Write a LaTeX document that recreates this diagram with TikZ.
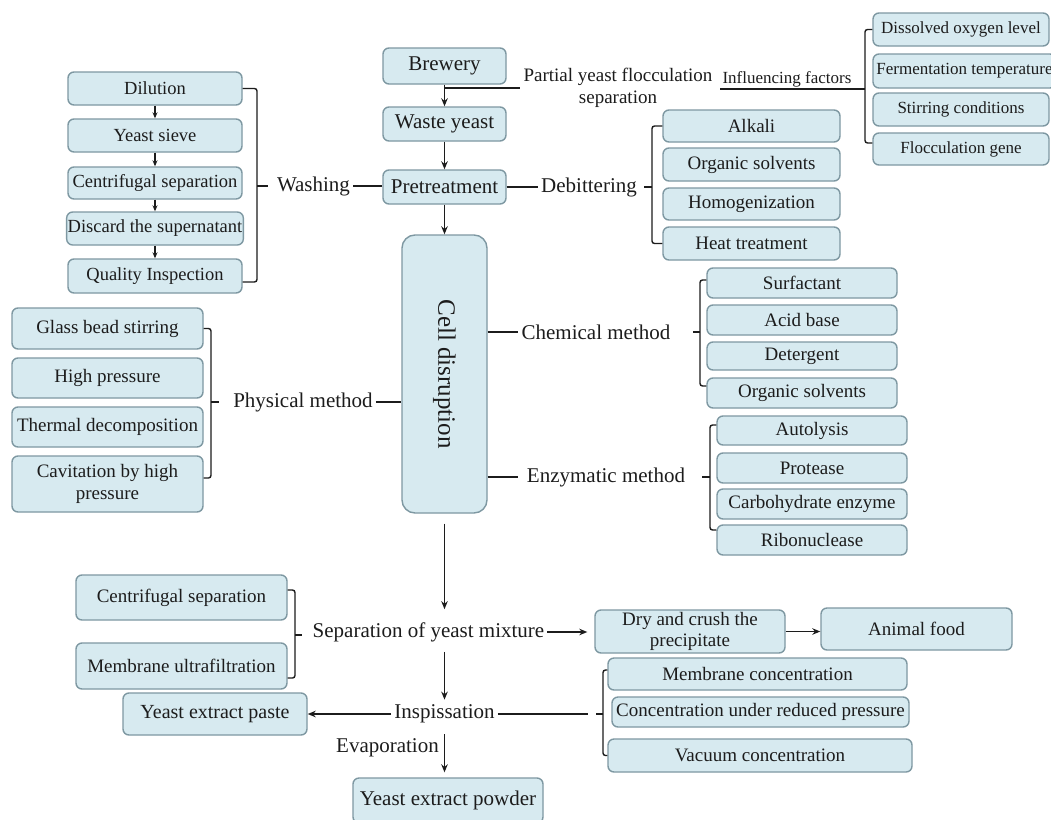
\documentclass[tikz,border=0pt]{standalone}
\usepackage{fontspec}
\setmainfont{Liberation Serif}
\usetikzlibrary{arrows.meta,calc}
\definecolor{boxfill}{HTML}{D7EAF0}
\definecolor{boxline}{HTML}{7E98A2}
\definecolor{ink}{HTML}{1C1C1C}
\newcommand{\fmain}{\fontsize{21}{24}\selectfont}
\newcommand{\fitem}{\fontsize{19}{21.5}\selectfont}
\newcommand{\fwash}{\fontsize{18.5}{21}\selectfont}
\newcommand{\finf}{\fontsize{17}{20}\selectfont}
\newcommand{\fcell}{\fontsize{25}{28}\selectfont}
% rounded box given by its corners: [options]{name}{x1}{y1}{x2}{y2}{text}
\newcommand{\bx}[7][]{\node[box,#1,minimum width={(#5-#3)*1pt},minimum height={(#6-#4)*1pt}] (#2) at ({(#3+#5)/2},{(#4+#6)/2}) {#7};}
\begin{document}
\begin{tikzpicture}[x=1pt,y=-1pt,
  box/.style={draw=boxline, fill=boxfill, line width=1.4pt, rounded corners=6pt,
              inner sep=1pt, align=center, text=ink, font=\fitem},
  lab/.style={inner sep=3pt, text=ink, font=\fmain},
  conn/.style={draw=ink, line width=1.5pt},
  arr/.style={conn, -{Stealth[length=8pt,width=6.5pt]}},
  sarr/.style={conn, line width=1.3pt, -{Stealth[length=6pt,width=5pt]}},
  brc/.style={draw=ink, line width=1.4pt, rounded corners=2.5pt}]
\fill[white] (0,0) rectangle (1051,819);
\clip (0,0) rectangle (1051,819);

% main chain
\bx[font=\fmain]{brew}{383}{48}{506}{84}{Brewery}
\bx[font=\fmain]{waste}{383}{107}{506}{141}{Waste yeast}
\bx[font=\fmain]{pre}{383}{170}{506}{204}{Pretreatment}
\node[box, font=\fcell, rotate=-90, minimum width=278pt, minimum height=85pt,
      rounded corners=13pt] (cell) at (444.5,374) {Cell disruption};

\draw[arr] (brew.south) -- (waste.north);
\draw[arr] (waste.south) -- (pre.north);
\draw[arr] (pre.south) -- (pre.south |- cell.west);

% partial flocculation and its influencing factors
\coordinate (j1) at (444.5,88);
\node[lab, font=\fitem, align=center] (pys) at (618,88) {Partial yeast flocculation\\separation};
\draw[conn] (j1) -- (pys.west);
\node[lab, font=\finf, anchor=south, inner sep=2pt] (infl) at (787,89) {Influencing factors};
\coordinate (ibr) at (865,89);
\draw[conn] (infl.south west) -- (ibr);

\bx[font=\finf]{diss}{873}{13}{1049}{46}{Dissolved oxygen level}
\bx[font=\finf]{ferm}{873}{54}{1056}{88}{Fermentation temperature}
\bx[font=\finf]{stir}{873}{93}{1049}{126}{Stirring conditions}
\bx[font=\finf]{floc}{873}{133}{1049}{165}{Flocculation gene}
\draw[brc] (diss.west) -- (865,29.5) -- (865,143) -- ($(floc.west)+(0,-6)$);

% washing
\bx[font=\fwash]{dil}{68}{72}{242}{105}{Dilution}
\bx[font=\fwash]{ysv}{68}{119}{242}{152}{Yeast sieve}
\bx[font=\fwash]{cen}{68}{167}{242}{199}{Centrifugal separation}
\bx[font=\fwash]{dis}{68}{212}{242}{245}{Discard the supernatant}
\bx[font=\fwash]{qi}{68}{259}{242}{293}{Quality Inspection}
\draw[sarr] (dil.south) -- (ysv.north);
\draw[sarr] (ysv.south) -- (cen.north);
\draw[sarr] (cen.south) -- (dis.north);
\draw[sarr] (dis.south) -- (qi.north);
\draw[brc] (dil.east) -- (257,88.5) -- (257,282) -- ($(qi.east)+(0,6)$);
\draw[brc] (257,186) -- (268,186);
\node[lab] (wash) at (313.5,186) {Washing};
\draw[conn] (wash.east) -- (wash.east -| pre.west);

% debittering
\node[lab] (deb) at (589,187) {Debittering};
\draw[conn] (pre.east) -- (deb.west);
\bx{alk}{663}{110}{840}{142}{Alkali}
\bx{orgA}{663}{148}{840}{181}{Organic solvents}
\bx{homo}{663}{188}{840}{220}{Homogenization}
\bx{heat}{663}{227}{840}{260}{Heat treatment}
\draw[brc] (alk.west) -- (652,126) -- (652,243.5) -- (heat.west);
\draw[brc] (652,187) -- (644,187);

% physical method
\bx{glass}{12}{308}{203}{349}{Glass bead stirring}
\bx{high}{12}{358}{203}{398}{High pressure}
\bx{therm}{12}{407}{203}{447}{Thermal decomposition}
\bx{cav}{12}{456}{203}{512}{Cavitation by high\\pressure}
\draw[brc] (glass.east) -- (211,328.5) -- (211,478) -- ($(cav.east)+(0,-6)$);
\draw[brc] (211,402) -- (219,402);
\node[lab] (phys) at (303,402) {Physical method};
\draw[conn] (phys.east) -- (phys.east -| cell.south);

% chemical method
\node[lab] (chem) at (596,332) {Chemical method};
\draw[conn] (chem.west -| cell.north) -- (chem.west);
\bx{surf}{707}{268}{897}{298}{Surfactant}
\bx{acid}{707}{305}{897}{335}{Acid base}
\bx{det}{707}{342}{897}{370}{Detergent}
\bx{orgB}{707}{378}{897}{408}{Organic solvents}
\draw[brc] ($(surf.west)+(0,-3)$) -- (700,280) -- (700,386) -- ($(orgB.west)+(0,-7)$);
\draw[brc] (700,332) -- (693,332);

% enzymatic method
\node[lab] (enz) at (606,477) {Enzymatic method};
\draw[conn] (enz.west -| cell.north) -- ($(enz.west)+(-6,0)$);
\bx{auto}{717}{416}{907}{445}{Autolysis}
\bx{prot}{717}{453}{907}{483}{Protease}
\bx{carb}{717}{489}{907}{519}{Carbohydrate enzyme}
\bx{ribo}{717}{525}{907}{555}{Ribonuclease}
\draw[brc] ($(auto.west)+(0,-5.5)$) -- (710,425) -- (710,530) -- ($(ribo.west)+(0,-10)$);
\draw[brc] (710,477) -- (702,477);

% separation of the yeast mixture
\node[lab] (sep) at (428.5,632) {Separation of yeast mixture};
\draw[arr] ($(cell.east)+(0,10)$) -- ($(cell.east |- sep.north)+(0,-10)$);
\bx{cs}{76}{575}{287}{620}{Centrifugal separation}
\bx{mu}{76}{643}{287}{689}{Membrane ultrafiltration}
\draw[brc] ($(cs.east)+(0,-7.5)$) -- (295,590) -- (295,678) -- ($(mu.east)+(0,12)$);
\draw[brc] (295,635) -- (302,635);
\bx{dry}{595}{610}{785}{653}{Dry and crush the\\precipitate}
\bx{animal}{821}{608}{1012}{650}{Animal food}
\draw[arr] (sep.east) -- ($(sep.east -| dry.west)+(-7,0)$);
\draw[arr] (dry.east) -- (dry.east -| animal.west);

% inspissation
\node[lab] (insp) at (444.5,714) {Inspissation};
\draw[arr] ($(insp.north |- sep.south)+(0,7)$) -- ($(insp.north)+(0,-2)$);
\bx[font=\fontsize{20}{23}\selectfont]{paste}{123}{693}{307}{735}{Yeast extract paste}
\draw[arr] (insp.west) -- (insp.west -| paste.east);
\bx{mc}{608}{658}{907}{690}{Membrane concentration}
\bx{cur}{612}{697}{909}{727}{Concentration under reduced pressure}
\bx{vac}{608}{739}{912}{772}{Vacuum concentration}
\coordinate (ie) at (588,714);
\draw[conn] (insp.east) -- (ie);
\draw[brc] ($(mc.west)+(0,-4)$) -- (603,670) -- (603,755.5) -- (vac.west);
\draw[brc] (603,714) -- (596,714);

% evaporation to powder
\bx[font=\fmain]{powder}{353}{778}{543}{823}{Yeast extract powder}
\draw[arr] ($(insp.south)+(0,8)$) -- ($(insp.south |- powder.north)+(0,-5)$);
\node[lab, anchor=east] (evap) at (442,748) {Evaporation};
\end{tikzpicture}
\end{document}
